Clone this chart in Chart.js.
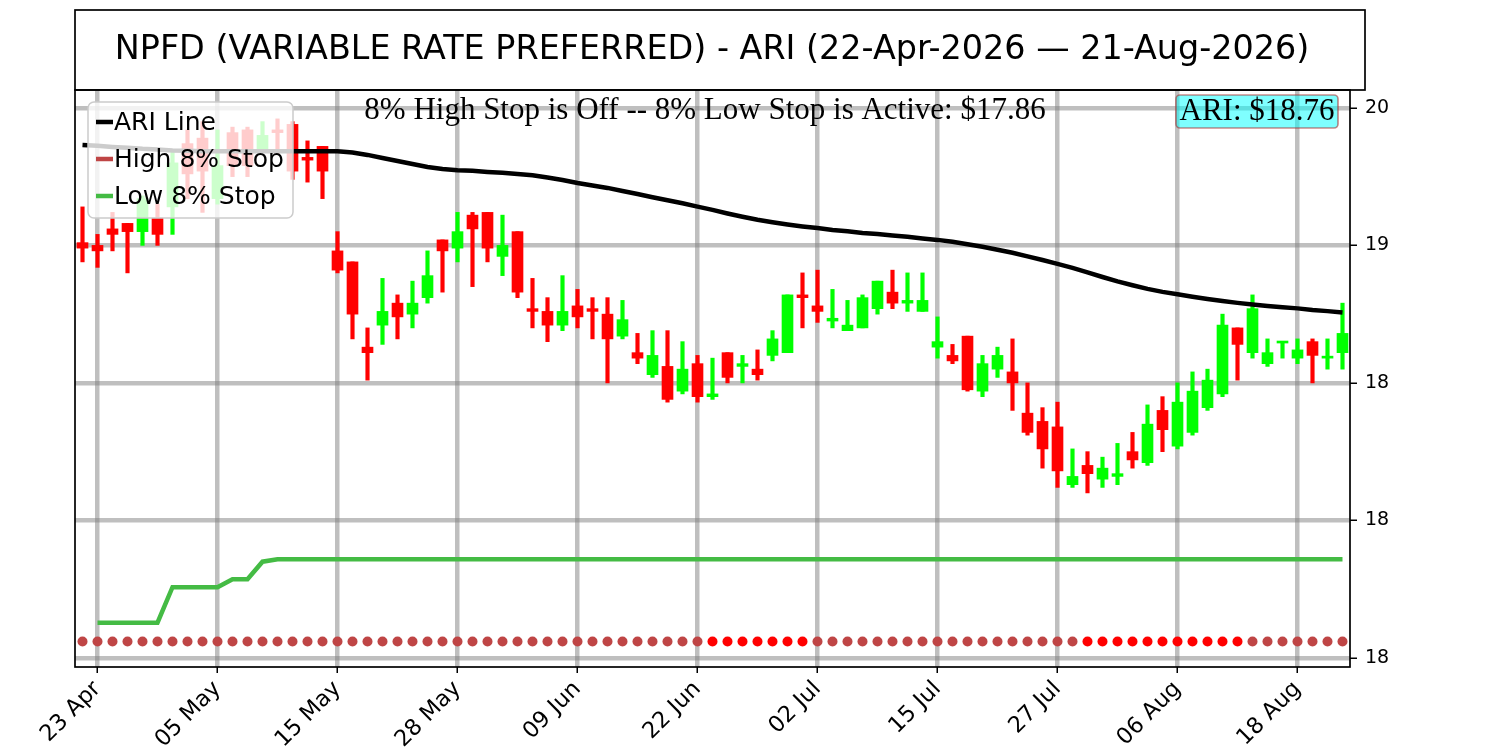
<!DOCTYPE html>
<html>
<head>
<meta charset="utf-8">
<script src="https://cdn.jsdelivr.net/npm/chart.js@4.4.1/dist/chart.umd.min.js"></script>
<style>
  html, body { margin: 0; padding: 0; background: #fff; }
  #wrap { width: 1500px; height: 750px; }
</style>
</head>
<body>
<div id="wrap"><canvas id="ariChart" width="1500" height="750"></canvas></div>
<script>
// trading days, 22-Apr-2026 .. 21-Aug-2026
const dates = [
  '22 Apr', '23 Apr', '24 Apr', '27 Apr', '28 Apr', '29 Apr', '30 Apr', '01 May', '04 May', '05 May',
  '06 May', '07 May', '08 May', '11 May', '12 May', '13 May', '14 May', '15 May', '18 May', '19 May',
  '20 May', '21 May', '22 May', '26 May', '27 May', '28 May', '29 May', '01 Jun', '02 Jun', '03 Jun',
  '04 Jun', '05 Jun', '08 Jun', '09 Jun', '10 Jun', '11 Jun', '12 Jun', '15 Jun', '16 Jun', '17 Jun',
  '18 Jun', '22 Jun', '23 Jun', '24 Jun', '25 Jun', '26 Jun', '29 Jun', '30 Jun', '01 Jul', '02 Jul',
  '06 Jul', '07 Jul', '08 Jul', '09 Jul', '10 Jul', '13 Jul', '14 Jul', '15 Jul', '16 Jul', '17 Jul',
  '20 Jul', '21 Jul', '22 Jul', '23 Jul', '24 Jul', '27 Jul', '28 Jul', '29 Jul', '30 Jul', '31 Jul',
  '03 Aug', '04 Aug', '05 Aug', '06 Aug', '07 Aug', '10 Aug', '11 Aug', '12 Aug', '13 Aug', '14 Aug',
  '17 Aug', '18 Aug', '19 Aug', '20 Aug', '21 Aug'
];
const xTickLabels = ['23 Apr', '05 May', '15 May', '28 May', '09 Jun', '22 Jun', '02 Jul', '15 Jul', '27 Jul', '06 Aug', '18 Aug'];

const opens = [
  19.01, 19.00, 19.06, 19.08, 19.05, 19.10, 19.14, 19.37, 19.39, 19.17,
  19.41, 19.42, 19.34, 19.42, 19.44, 19.32, 19.36, 18.98, 18.94, 18.63,
  18.71, 18.79, 18.75, 18.81, 19.02, 18.99, 19.11, 19.12, 18.96, 19.05,
  18.77, 18.76, 18.71, 18.78, 18.77, 18.75, 18.67, 18.61, 18.53, 18.56,
  18.47, 18.57, 18.45, 18.61, 18.56, 18.55, 18.60, 18.61, 18.82, 18.78,
  18.725, 18.69, 18.70, 18.77, 18.83, 18.79, 18.76, 18.63, 18.60, 18.67,
  18.47, 18.55, 18.54, 18.39, 18.36, 18.34, 18.13, 18.20, 18.15, 18.16,
  18.25, 18.21, 18.40, 18.27, 18.32, 18.41, 18.46, 18.70, 18.61, 18.57,
  18.645, 18.59, 18.65, 18.59, 18.61
];
const highs = [
  19.14, 19.04, 19.12, 19.08, 19.18, 19.15, 19.34, 19.42, 19.45, 19.42,
  19.43, 19.43, 19.45, 19.46, 19.45, 19.38, 19.36, 19.05, 18.94, 18.70,
  18.88, 18.82, 18.87, 18.98, 19.02, 19.12, 19.12, 19.12, 19.11, 19.05,
  18.88, 18.81, 18.89, 18.84, 18.81, 18.81, 18.80, 18.68, 18.69, 18.69,
  18.65, 18.60, 18.59, 18.61, 18.60, 18.62, 18.69, 18.82, 18.90, 18.91,
  18.84, 18.80, 18.82, 18.87, 18.91, 18.90, 18.90, 18.74, 18.64, 18.67,
  18.60, 18.63, 18.66, 18.50, 18.41, 18.43, 18.26, 18.25, 18.23, 18.28,
  18.32, 18.42, 18.45, 18.50, 18.54, 18.55, 18.75, 18.70, 18.82, 18.66,
  18.65, 18.66, 18.66, 18.66, 18.79
];
const lows = [
  18.94, 18.92, 18.98, 18.90, 19.00, 19.00, 19.04, 19.17, 19.12, 19.15,
  19.25, 19.25, 19.34, 19.33, 19.24, 19.23, 19.17, 18.90, 18.66, 18.51,
  18.64, 18.66, 18.70, 18.79, 18.83, 18.94, 18.85, 18.94, 18.89, 18.81,
  18.70, 18.65, 18.69, 18.70, 18.66, 18.50, 18.66, 18.57, 18.52, 18.43,
  18.46, 18.43, 18.44, 18.50, 18.50, 18.51, 18.58, 18.61, 18.70, 18.72,
  18.70, 18.69, 18.70, 18.75, 18.77, 18.76, 18.76, 18.59, 18.57, 18.47,
  18.45, 18.52, 18.40, 18.31, 18.19, 18.12, 18.12, 18.10, 18.12, 18.13,
  18.19, 18.20, 18.25, 18.26, 18.31, 18.40, 18.45, 18.51, 18.59, 18.56,
  18.59, 18.57, 18.50, 18.55, 18.55
];
const closes = [
  18.99, 18.98, 19.04, 19.05, 19.17, 19.04, 19.30, 19.26, 19.27, 19.29,
  19.29, 19.29, 19.40, 19.41, 19.27, 19.31, 19.27, 18.91, 18.75, 18.61,
  18.76, 18.74, 18.79, 18.89, 18.98, 19.05, 19.06, 18.99, 19.00, 18.83,
  18.76, 18.71, 18.76, 18.74, 18.76, 18.66, 18.73, 18.59, 18.60, 18.44,
  18.55, 18.45, 18.46, 18.52, 18.57, 18.53, 18.66, 18.82, 18.81, 18.76,
  18.735, 18.71, 18.81, 18.87, 18.79, 18.80, 18.80, 18.65, 18.58, 18.475,
  18.57, 18.60, 18.50, 18.32, 18.26, 18.18, 18.16, 18.17, 18.19, 18.17,
  18.22, 18.35, 18.33, 18.43, 18.47, 18.51, 18.71, 18.64, 18.77, 18.61,
  18.65, 18.62, 18.60, 18.595, 18.68
];
const ariLine = [
  19.365, 19.362, 19.358, 19.355, 19.351, 19.349, 19.345, 19.344, 19.342, 19.342,
  19.342, 19.342, 19.342, 19.342, 19.342, 19.342, 19.342, 19.342, 19.338, 19.329,
  19.318, 19.307, 19.296, 19.285, 19.278, 19.273, 19.271, 19.267, 19.264, 19.260,
  19.255, 19.247, 19.238, 19.227, 19.218, 19.209, 19.198, 19.187, 19.175, 19.164,
  19.153, 19.141, 19.129, 19.116, 19.104, 19.093, 19.084, 19.076, 19.069, 19.063,
  19.056, 19.051, 19.045, 19.041, 19.036, 19.031, 19.025, 19.020, 19.013, 19.004,
  18.995, 18.984, 18.973, 18.960, 18.947, 18.933, 18.918, 18.902, 18.885, 18.869,
  18.855, 18.842, 18.831, 18.822, 18.813, 18.805, 18.798, 18.791, 18.785, 18.780,
  18.775, 18.771, 18.765, 18.761, 18.756
];
const lowStop = [
  null, 17.628, 17.628, 17.628, 17.628, 17.628, 17.757, 17.757, 17.757, 17.757,
  17.786, 17.786, 17.850, 17.859, 17.859, 17.859, 17.859, 17.859, 17.859, 17.859,
  17.859, 17.859, 17.859, 17.859, 17.859, 17.859, 17.859, 17.859, 17.859, 17.859,
  17.859, 17.859, 17.859, 17.859, 17.859, 17.859, 17.859, 17.859, 17.859, 17.859,
  17.859, 17.859, 17.859, 17.859, 17.859, 17.859, 17.859, 17.859, 17.859, 17.859,
  17.859, 17.859, 17.859, 17.859, 17.859, 17.859, 17.859, 17.859, 17.859, 17.859,
  17.859, 17.859, 17.859, 17.859, 17.859, 17.859, 17.859, 17.859, 17.859, 17.859,
  17.859, 17.859, 17.859, 17.859, 17.859, 17.859, 17.859, 17.859, 17.859, 17.859,
  17.859, 17.859, 17.859, 17.859, 17.859
];
const highStop = [
  17.56, 17.56, 17.56, 17.56, 17.56, 17.56, 17.56, 17.56, 17.56, 17.56,
  17.56, 17.56, 17.56, 17.56, 17.56, 17.56, 17.56, 17.56, 17.56, 17.56,
  17.56, 17.56, 17.56, 17.56, 17.56, 17.56, 17.56, 17.56, 17.56, 17.56,
  17.56, 17.56, 17.56, 17.56, 17.56, 17.56, 17.56, 17.56, 17.56, 17.56,
  17.56, 17.56, 17.56, 17.56, 17.56, 17.56, 17.56, 17.56, 17.56, 17.56,
  17.56, 17.56, 17.56, 17.56, 17.56, 17.56, 17.56, 17.56, 17.56, 17.56,
  17.56, 17.56, 17.56, 17.56, 17.56, 17.56, 17.56, 17.56, 17.56, 17.56,
  17.56, 17.56, 17.56, 17.56, 17.56, 17.56, 17.56, 17.56, 17.56, 17.56,
  17.56, 17.56, 17.56, 17.56, 17.56
];
// 1 = stop flagged that day (bright red dot)
const highStopFlag = [
  0, 0, 0, 0, 0, 0, 0, 0, 0, 0,
  0, 0, 0, 0, 0, 0, 0, 0, 0, 0,
  0, 0, 0, 0, 0, 0, 0, 0, 0, 0,
  0, 0, 0, 0, 0, 0, 0, 0, 0, 0,
  0, 0, 1, 1, 1, 1, 1, 1, 1, 0,
  0, 0, 0, 0, 0, 0, 0, 0, 0, 0,
  0, 0, 0, 0, 0, 0, 0, 1, 1, 1,
  1, 1, 1, 1, 1, 1, 1, 1, 0, 0,
  0, 0, 0, 0, 0
];
const yTickValues = [17.5, 18.0, 18.5, 19.0, 19.5];
const yTickLabels = ['18', '18', '18', '19', '20'];

const titleText = 'NPFD (VARIABLE RATE PREFERRED) - ARI (22-Apr-2026 \u2014 21-Aug-2026)';
const statusText = '8% High Stop is Off -- 8% Low Stop is Active: $17.86';
const ariText = 'ARI: $18.76';

const UP = '#00ff00';
const DOWN = '#ff0000';
const STOP_DOT = '#bf4545';
const STOP_HIT = '#ff0000';
const LOW_STOP = '#44bb44';
const GRID = 'rgba(128, 128, 128, 0.5)';

const candleColors = closes.map((c, i) => (c >= opens[i] ? UP : DOWN));

const legendItems = [
  { label: 'ARI Line', color: '#000000' },
  { label: 'High 8% Stop', color: STOP_DOT },
  { label: 'Low 8% Stop', color: LOW_STOP }
];

const chartDecor = {
  id: 'chartDecor',
  beforeDraw(chart) {
    const ctx = chart.ctx;
    ctx.save();
    ctx.fillStyle = '#ffffff';
    ctx.fillRect(0, 0, chart.width, chart.height);
    ctx.restore();
  },
  afterDatasetsDraw(chart) {
    const ctx = chart.ctx;
    ctx.save();
    // legend box, upper left
    ctx.beginPath();
    ctx.roundRect(88, 102, 205, 116, 6);
    ctx.fillStyle = 'rgba(255, 255, 255, 0.8)';
    ctx.fill();
    ctx.strokeStyle = '#cccccc';
    ctx.lineWidth = 1.5;
    ctx.stroke();
    ctx.font = '25px "DejaVu Sans"';
    ctx.textAlign = 'left';
    ctx.textBaseline = 'middle';
    legendItems.forEach((item, i) => {
      const y = 122 + i * 37;
      ctx.strokeStyle = item.color;
      ctx.lineWidth = 4.5;
      ctx.beginPath();
      ctx.moveTo(96, y);
      ctx.lineTo(113, y);
      ctx.stroke();
      ctx.fillStyle = '#000';
      ctx.fillText(item.label, 114, y + 1);
    });
    ctx.restore();
  },
  afterDraw(chart) {
    const { ctx, chartArea: a } = chart;
    ctx.save();
    ctx.strokeStyle = '#000';
    ctx.lineWidth = 1.7;
    ctx.strokeRect(a.left, a.top, a.right - a.left, a.bottom - a.top);
    // title box
    ctx.strokeRect(a.left, 10, 1365 - a.left, a.top - 10);
    ctx.fillStyle = '#000';
    ctx.textAlign = 'center';
    ctx.textBaseline = 'middle';
    ctx.font = '33.4px "DejaVu Sans"';
    ctx.fillText(titleText, 712, 50);

    ctx.font = '31px "Liberation Serif"';
    ctx.fillText(statusText, 705, 111);

    // ARI value box
    ctx.beginPath();
    ctx.roundRect(1176, 95, 162, 33, 4);
    ctx.fillStyle = 'rgba(0, 255, 255, 0.5)';
    ctx.fill();
    ctx.strokeStyle = 'rgba(165, 42, 42, 0.55)';
    ctx.lineWidth = 1.7;
    ctx.stroke();
    ctx.fillStyle = '#000';
    ctx.fillText(ariText, 1257, 112);
    ctx.restore();
  }
};

Chart.defaults.font.family = 'DejaVu Sans';

new Chart(document.getElementById('ariChart'), {
  type: 'bar',
  data: {
    labels: dates,
    datasets: [
      {
        label: 'wick',
        data: lows.map((l, i) => [l, highs[i]]),
        backgroundColor: candleColors,
        borderWidth: 0,
        barThickness: 3.5,
        grouped: false,
        order: 5
      },
      {
        label: 'body',
        data: opens.map((o, i) => [o, closes[i]]),
        backgroundColor: candleColors,
        borderWidth: 0,
        barThickness: 11,
        minBarLength: 2,
        grouped: false,
        order: 4
      },
      {
        type: 'line',
        label: 'Low 8% Stop',
        data: lowStop,
        borderColor: LOW_STOP,
        borderWidth: 4.5,
        pointRadius: 0,
        order: 3
      },
      {
        type: 'line',
        label: 'High 8% Stop',
        data: highStop,
        showLine: false,
        pointRadius: 5,
        pointBorderWidth: 0,
        pointBackgroundColor: highStopFlag.map(f => (f ? STOP_HIT : STOP_DOT)),
        order: 2
      },
      {
        type: 'line',
        label: 'ARI Line',
        data: ariLine,
        borderColor: '#000000',
        borderWidth: 4.5,
        pointRadius: 0,
        order: 1
      }
    ]
  },
  options: {
    responsive: false,
    animation: false,
    devicePixelRatio: 1,
    layout: { padding: { left: 75, top: 90, right: 0, bottom: 0 } },
    plugins: {
      legend: { display: false },
      tooltip: { enabled: false },
      title: { display: false }
    },
    scales: {
      x: {
        type: 'category',
        offset: true,
        afterBuildTicks(scale) {
          scale.ticks = scale.ticks.filter(t => xTickLabels.includes(dates[t.value]));
        },
        afterFit(scale) { scale.height = 83; },
        grid: {
          offset: false,
          color: GRID,
          lineWidth: 4.5,
          tickLength: 6,
          tickColor: '#000',
          tickWidth: 1.5
        },
        border: { display: false },
        ticks: {
          autoSkip: false,
          minRotation: 45,
          maxRotation: 45,
          padding: 3,
          color: '#000',
          font: { family: 'DejaVu Sans', size: 22.5 }
        }
      },
      y: {
        type: 'linear',
        position: 'right',
        min: 17.467,
        max: 19.565,
        afterBuildTicks(scale) {
          scale.ticks = yTickValues.map(v => ({ value: v }));
        },
        afterFit(scale) { scale.width = 150; },
        grid: {
          color: GRID,
          lineWidth: 4.5,
          tickLength: 7,
          tickColor: '#000',
          tickWidth: 1.5
        },
        border: { display: false },
        ticks: {
          padding: 8,
          color: '#000',
          font: { family: 'DejaVu Sans', size: 19 },
          callback(value) {
            const k = yTickValues.indexOf(value);
            return k >= 0 ? yTickLabels[k] : '';
          }
        }
      }
    }
  },
  plugins: [chartDecor]
});
</script>
</body>
</html>
